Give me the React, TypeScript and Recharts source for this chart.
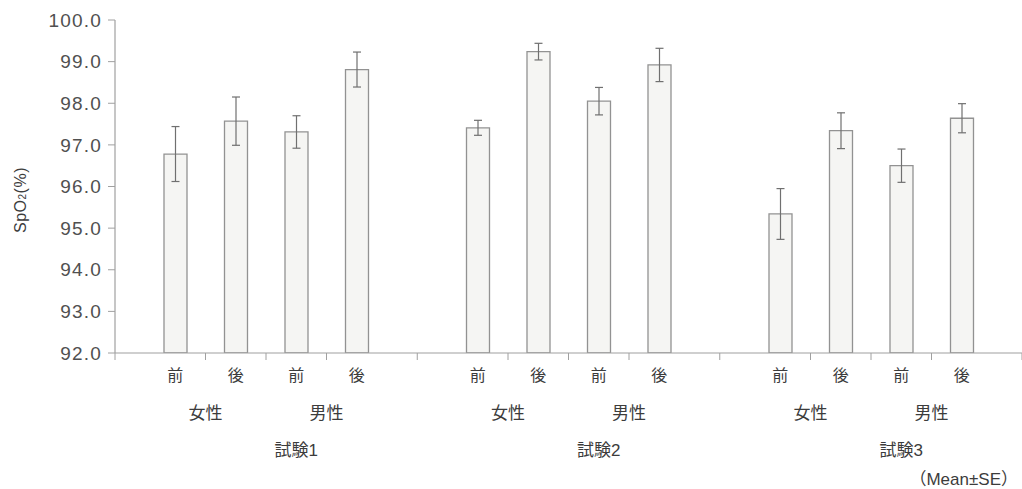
import React from 'react';
import { BarChart, Bar, XAxis, YAxis, ErrorBar } from 'recharts';

// values
const trials = ['試験1', '試験2', '試験3'];
const sexes = ['女性', '男性'];
const timings = ['前', '後'];
const means = [
  [96.78, 97.57, 97.31, 98.81],
  [97.41, 99.24, 98.05, 98.92],
  [95.34, 97.34, 96.5, 97.64],
];
const ses = [
  [0.66, 0.58, 0.39, 0.42],
  [0.18, 0.2, 0.33, 0.4],
  [0.61, 0.43, 0.4, 0.35],
];
const yTicks = [92, 93, 94, 95, 96, 97, 98, 99, 100];

type Row = { id: string; label: string; group: number; pos: number; value?: number; err?: number };

const rows: Row[] = [];
trials.forEach((_, g) => {
  means[g].forEach((m, i) => {
    rows.push({ id: `g${g}-${i}`, label: timings[i % 2], group: g, pos: i, value: m, err: ses[g][i] });
  });
  if (g < trials.length - 1) rows.push({ id: `gap${g}`, label: '', group: g, pos: -1 });
});

const W = 1022;
const H = 489;
const Y_AXIS_W = 115;
const TOP = 20;
const X_AXIS_H = 136;
const PAD = 30;
const PLOT_W = W - Y_AXIS_W;
const SLOT = (PLOT_W - PAD * 2) / rows.length;
const BASE_Y = H - X_AXIS_H;

const FONT = '"Liberation Sans", Arial, "Noto Sans CJK JP", sans-serif';
const AXIS = '#a0a0a0';
const TEXT = '#3c3c3c';

const XTick = (props: any) => {
  const { x, index } = props;
  const row = rows[index];
  if (!row) return null;
  const marks: number[] = [];
  if (row.pos < 0) marks.push(x);
  else if (row.pos < 3) marks.push(x + SLOT / 2);
  if (row.pos === 0 && row.group === 0) marks.push(x - SLOT / 2 - PAD);
  if (row.pos === 3 && row.group === trials.length - 1) marks.push(x + SLOT / 2 + PAD);
  return (
    <g>
      {marks.map((mx, k) => (
        <line key={k} x1={mx} x2={mx} y1={BASE_Y} y2={BASE_Y + 7} stroke={AXIS} strokeWidth={1} />
      ))}
      {row.pos >= 0 && (
        <text x={x} y={BASE_Y + 28} textAnchor="middle" fontSize={16} fill={TEXT} fontFamily={FONT}>
          {row.label}
        </text>
      )}
      {(row.pos === 0 || row.pos === 2) && (
        <text x={x + SLOT / 2} y={BASE_Y + 66} textAnchor="middle" fontSize={17} fill={TEXT} fontFamily={FONT}>
          {sexes[row.pos / 2]}
        </text>
      )}
      {row.pos === 1 && (
        <text x={x + SLOT} y={BASE_Y + 103} textAnchor="middle" fontSize={17} fill={TEXT} fontFamily={FONT}>
          {trials[row.group]}
        </text>
      )}
    </g>
  );
};

export default function App() {
  return (
    <div style={{ position: 'relative', width: W, height: H, background: '#fff' }}>
      <style>{`body{margin:0}`}</style>
      <BarChart width={W} height={H} data={rows} margin={{ top: TOP, right: 0, bottom: 0, left: 0 }} barCategoryGap={0}>
        <XAxis
          dataKey="id"
          interval={0}
          height={X_AXIS_H}
          padding={{ left: PAD, right: PAD }}
          axisLine={{ stroke: AXIS, strokeWidth: 1.2 }}
          tickLine={false}
          tick={<XTick />}
        />
        <YAxis
          width={Y_AXIS_W}
          domain={[92, 100]}
          ticks={yTicks}
          allowDataOverflow
          tickFormatter={(v: number) => v.toFixed(1)}
          axisLine={{ stroke: AXIS, strokeWidth: 1.2 }}
          tickLine={{ stroke: AXIS }}
          tickSize={7}
          tickMargin={6}
          tick={{ fill: '#505050', fontSize: 19, fontFamily: FONT, letterSpacing: 1.2 }}
        />
        <Bar dataKey="value" barSize={23} fill="#f5f5f3" stroke="#929292" strokeWidth={1.3} isAnimationActive={false}>
          <ErrorBar dataKey="err" width={4} stroke="#707070" strokeWidth={1.2} direction="y" />
        </Bar>
      </BarChart>
      <div
        style={{
          position: 'absolute',
          left: 21 - 60,
          top: 200 - 10,
          width: 120,
          height: 20,
          lineHeight: '20px',
          textAlign: 'center',
          transform: 'rotate(-90deg)',
          whiteSpace: 'nowrap',
          fontFamily: FONT,
          fontSize: 16,
          letterSpacing: 0.5,
          color: TEXT,
        }}
      >
        SpO<span style={{ fontSize: 10 }}>2</span>(%)
      </div>
      <div
        style={{
          position: 'absolute',
          right: 4,
          top: 471,
          height: 18,
          lineHeight: '18px',
          whiteSpace: 'nowrap',
          fontFamily: FONT,
          fontSize: 17,
          color: TEXT,
        }}
      >
        （Mean±SE）
      </div>
    </div>
  );
}
